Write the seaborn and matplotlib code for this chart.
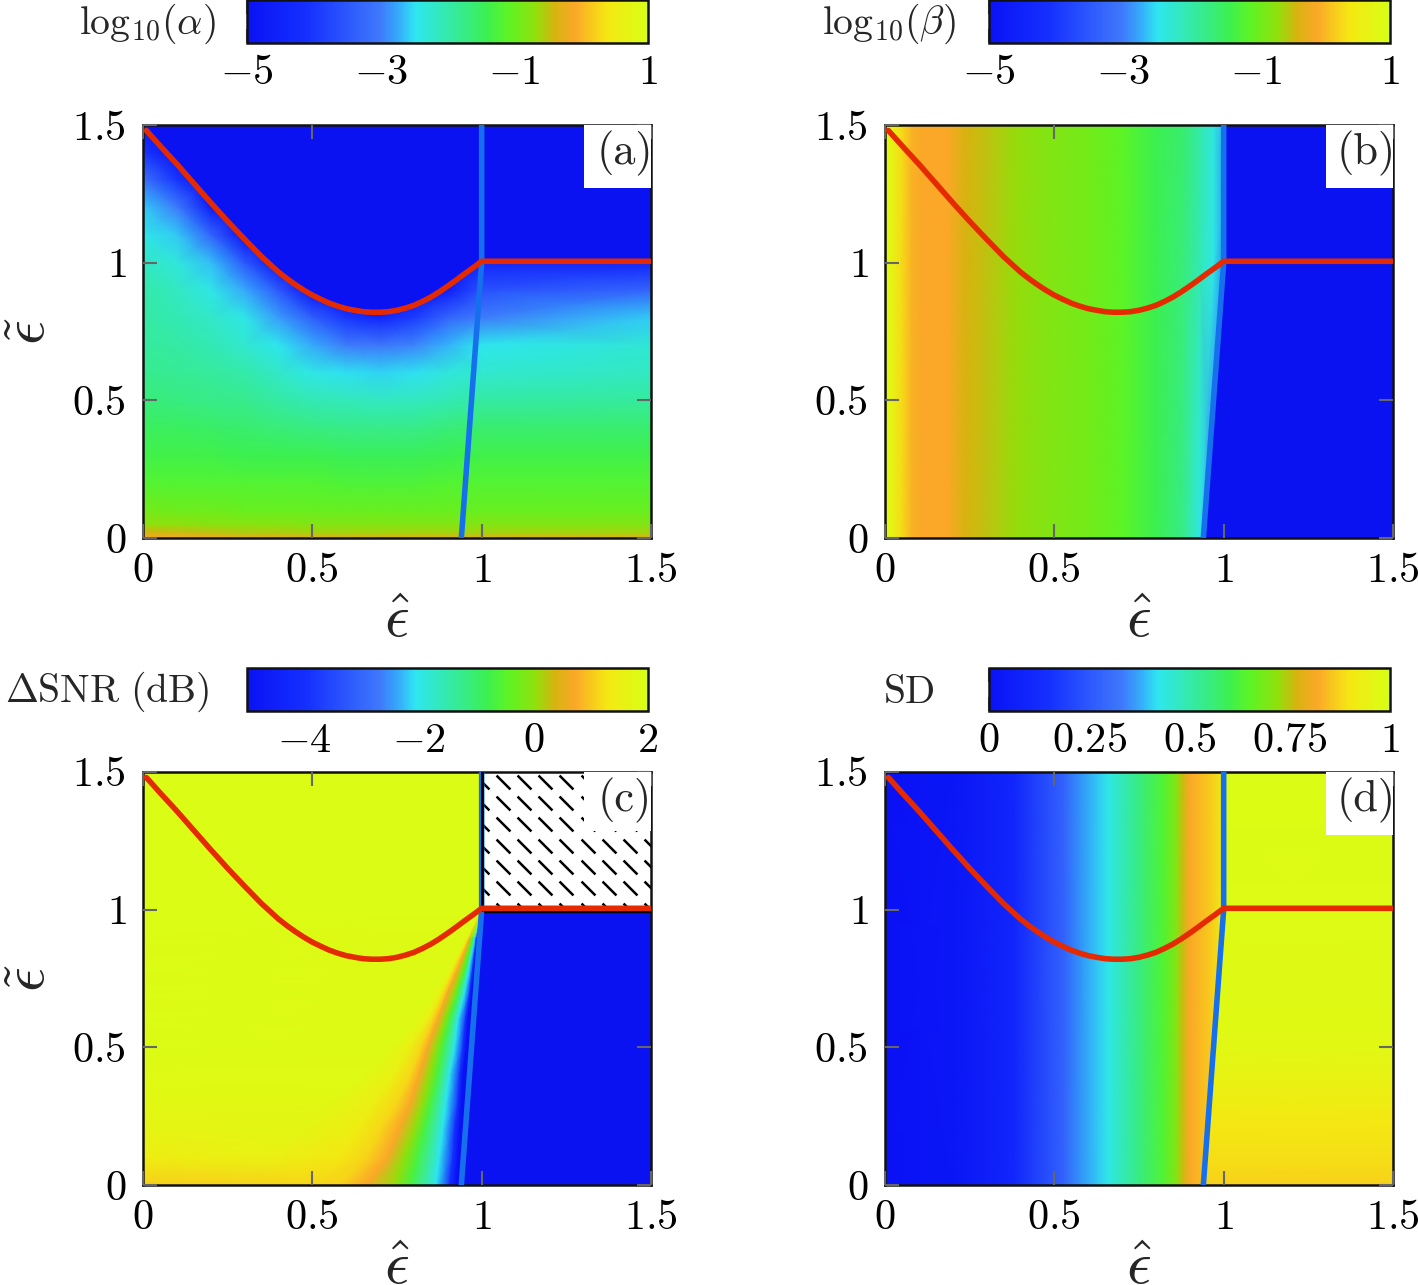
import matplotlib
matplotlib.use("Agg")
import numpy as np
import seaborn as sns
import matplotlib.pyplot as plt
from matplotlib.cm import ScalarMappable
from matplotlib.colors import LinearSegmentedColormap, Normalize
from matplotlib.patches import Polygon, Rectangle
from matplotlib.transforms import ScaledTranslation

# red boundary curve
curve_x = [0.01, 0.05, 0.1, 0.15, 0.2, 0.25, 0.3, 0.35, 0.4, 0.425, 0.45, 0.475, 0.5, 0.525,
           0.55, 0.575, 0.6, 0.625, 0.65, 0.675, 0.7, 0.725, 0.75, 0.775, 0.8, 0.825, 0.85,
           0.875, 0.9, 0.925, 0.95, 0.975, 1.0, 1.5]
curve_y = [1.48, 1.425, 1.358, 1.288, 1.218, 1.15, 1.085, 1.022, 0.966, 0.942, 0.92, 0.9,
           0.882, 0.867, 0.853, 0.842, 0.833, 0.827, 0.822, 0.82, 0.82, 0.822, 0.827, 0.835,
           0.845, 0.859, 0.875, 0.894, 0.915, 0.937, 0.96, 0.982, 1.005, 1.005]

# blue line
line_x = [0.94, 1.0, 1.0]
line_y = [0.0, 1.0, 1.5]

# (a) log10(alpha), rows follow alpha_y, columns follow alpha_x
alpha_x = [0, 0.1, 0.2, 0.3, 0.4, 0.5, 0.6, 0.7, 0.8, 0.9, 1.0, 1.5]
alpha_y = [0, 0.02, 0.05, 0.1, 0.2, 0.3, 0.4, 0.5, 0.6, 0.7, 0.8, 0.9, 1.0, 1.1, 1.2, 1.3, 1.4, 1.5]
alpha_v = [
    [-0.1, -0.1, -0.15, -0.2, -0.25, -0.25, -0.3, -0.3, -0.3, -0.3, -0.3, -0.3],
    [-0.4, -0.45, -0.5, -0.55, -0.55, -0.6, -0.6, -0.6, -0.6, -0.6, -0.6, -0.6],
    [-0.7, -0.7, -0.75, -0.75, -0.75, -0.8, -0.8, -0.8, -0.8, -0.8, -0.8, -0.8],
    [-0.9, -0.95, -0.95, -1, -1, -1, -1, -1, -1, -1, -1, -1],
    [-1.2, -1.2, -1.2, -1.2, -1.2, -1.2, -1.25, -1.25, -1.25, -1.2, -1.2, -1.2],
    [-1.35, -1.35, -1.35, -1.4, -1.4, -1.4, -1.45, -1.45, -1.45, -1.4, -1.35, -1.35],
    [-1.5, -1.5, -1.55, -1.6, -1.65, -1.7, -1.75, -1.75, -1.75, -1.65, -1.6, -1.6],
    [-1.65, -1.7, -1.75, -1.8, -1.95, -2.05, -2.1, -2.15, -2.12, -2.05, -1.95, -1.9],
    [-1.8, -1.85, -1.9, -2.0, -2.2, -2.4, -2.5, -2.55, -2.5, -2.35, -2.25, -2.15],
    [-1.9, -1.95, -2.05, -2.25, -2.45, -2.75, -3.0, -3.05, -2.95, -2.7, -2.45, -2.3],
    [-1.95, -2.05, -2.2, -2.4, -2.8, -3.4, -4.0, -4.4, -3.9, -3.3, -3.0, -2.6],
    [-2.0, -2.15, -2.4, -2.75, -3.5, -5, -5, -5, -5, -4.6, -3.6, -3.3],
    [-2.15, -2.35, -2.65, -3.5, -5, -5, -5, -5, -5, -5, -4.4, -4.4],
    [-2.4, -2.6, -3.3, -5, -5, -5, -5, -5, -5, -5, -5, -5],
    [-2.6, -3.0, -4.6, -5, -5, -5, -5, -5, -5, -5, -5, -5],
    [-3.1, -4.0, -5, -5, -5, -5, -5, -5, -5, -5, -5, -5],
    [-4.0, -5, -5, -5, -5, -5, -5, -5, -5, -5, -5, -5],
    [-5, -5, -5, -5, -5, -5, -5, -5, -5, -5, -5, -5],
]

# (b) log10(beta), nearly a function of x only
beta_x = [0, 0.02, 0.05, 0.08, 0.11, 0.185, 0.233, 0.3, 0.38, 0.48, 0.6, 0.7, 0.8, 0.88, 0.93, 0.97, 1.05, 1.5]
beta_y = [0, 1.0, 1.5]
beta_v = [
    [0.88, 0.7, 0.28, -0.02, -0.08, -0.1, -0.38, -0.5, -0.65, -0.8, -0.92, -1.1, -1.4, -1.75, -2.42, -3.2, -5, -5],
    [0.88, 0.7, 0.28, -0.02, -0.08, -0.1, -0.38, -0.5, -0.65, -0.8, -0.92, -1.1, -1.4, -1.65, -2.05, -2.4, -5, -5],
    [0.88, 0.7, 0.28, -0.02, -0.08, -0.1, -0.38, -0.5, -0.65, -0.8, -0.92, -1.1, -1.4, -1.6, -2.0, -2.36, -3.2, -5],
]

# (c) delta SNR, columns follow the contour lines of the fan into (1, 1)
snr_y = [0, 0.1, 0.2, 0.3, 0.4, 0.5, 0.6, 0.7, 0.8, 0.9, 1.0, 1.5]
snr_x = [
    [0, 0.3, 0.5, 0.58, 0.66, 0.745, 0.79, 0.865, 0.905, 0.925, 1.5],
    [0, 0.35, 0.58, 0.66, 0.72, 0.77, 0.81, 0.875, 0.915, 0.93, 1.5],
    [0, 0.45, 0.63, 0.7, 0.755, 0.80, 0.83, 0.885, 0.92, 0.935, 1.5],
    [0, 0.55, 0.68, 0.75, 0.79, 0.825, 0.85, 0.895, 0.93, 0.94, 1.5],
    [0, 0.65, 0.74, 0.79, 0.815, 0.845, 0.87, 0.905, 0.935, 0.945, 1.5],
    [0, 0.73, 0.785, 0.82, 0.84, 0.865, 0.885, 0.92, 0.945, 0.955, 1.5],
    [0, 0.81, 0.84, 0.855, 0.87, 0.89, 0.905, 0.93, 0.952, 0.96, 1.5],
    [0, 0.865, 0.88, 0.89, 0.90, 0.92, 0.93, 0.95, 0.965, 0.97, 1.5],
    [0, 0.91, 0.92, 0.925, 0.935, 0.945, 0.955, 0.965, 0.975, 0.98, 1.5],
    [0, 0.955, 0.96, 0.962, 0.965, 0.97, 0.975, 0.98, 0.985, 0.99, 1.5],
    [0, 1, 1, 1, 1, 1, 1, 1, 1, 1, 1.5],
    [0, 1, 1, 1, 1, 1, 1, 1, 1, 1, 1.5],
]
snr_v = [
    [1.09, 1.12, 1.14, 1.1, 0.74, 0.04, -0.66, -2.06, -3.95, -5, -5],
    [1.44, 1.55, 1.3, 1.1, 0.74, 0.04, -0.66, -2.06, -3.95, -5, -5],
    [1.65, 1.7, 1.45, 1.15, 0.74, 0.04, -0.66, -2.06, -3.95, -5, -5],
    [1.76, 1.78, 1.5, 1.15, 0.74, 0.04, -0.66, -2.06, -3.95, -5, -5],
    [1.83, 1.83, 1.55, 1.15, 0.74, 0.04, -0.66, -2.06, -3.95, -5, -5],
    [1.9, 1.86, 1.55, 1.15, 0.74, 0.04, -0.66, -2.06, -3.95, -5, -5],
    [1.9, 1.86, 1.55, 1.15, 0.74, 0.04, -0.66, -2.06, -3.95, -5, -5],
    [1.9, 1.86, 1.55, 1.15, 0.74, 0.04, -0.66, -2.06, -3.95, -5, -5],
    [1.9, 1.86, 1.55, 1.15, 0.74, 0.04, -0.66, -2.06, -3.95, -5, -5],
    [1.9, 1.86, 1.55, 1.15, 0.74, 0.04, -0.66, -2.06, -3.95, -5, -5],
    [1.9, 1.9, 1.9, 1.9, 1.9, 1.9, 1.9, 1.9, 1.9, -5, -5],
    [1.9, 1.9, 1.9, 1.9, 1.9, 1.9, 1.9, 1.9, 1.9, -5, -5],
]

# (d) SD, left of the blue line it follows x, right of it y
sd_x = [0, 0.2, 0.38, 0.53, 0.63, 0.66, 0.75, 0.82, 0.86, 0.88, 0.9, 0.96, 1.0, 1.5]
sd_v = [0, 0.02, 0.1, 0.28, 0.40, 0.43, 0.55, 0.63, 0.7, 0.76, 0.82, 0.86, 0.92, 0.92]
sd_right_y = [0, 0.09, 0.23, 0.38, 0.5, 0.7, 1.5]
sd_right_v = [0.87, 0.885, 0.9, 0.94, 0.965, 0.98, 0.985]

panel_names = ["(a)", "(b)", "(c)", "(d)"]
bar_labels = [r"$\mathrm{log}_{10}(\alpha)$", r"$\mathrm{log}_{10}(\beta)$",
              r"$\Delta\mathrm{SNR}\ (\mathrm{dB})$", r"$\mathrm{SD}$"]
bar_ranges = [(-5, 1), (-5, 1), (-5, 2), (0, 1)]
bar_ticks = [[-5, -3, -1, 1], [-5, -3, -1, 1], [-4, -2, 0, 2], [0, 0.25, 0.5, 0.75, 1]]
bar_ticklabels = [[r"$-5$", r"$-3$", r"$-1$", r"$1$"], [r"$-5$", r"$-3$", r"$-1$", r"$1$"],
                  [r"$-4$", r"$-2$", r"$0$", r"$2$"],
                  [r"$0$", r"$0.25$", r"$0.5$", r"$0.75$", r"$1$"]]
axis_ticks = [0, 0.5, 1, 1.5]
axis_ticklabels = [r"$0$", r"$0.5$", r"$1$", r"$1.5$"]

sns.set_theme(style="white")
plt.rcParams["mathtext.fontset"] = "cm"

W, H = 1418, 1285
FS = 30.5
GREY = "#666666"
RED = "#e62a00"
BLUE = "#1670ee"
DEEP = "#0a12f2"

cmap = LinearSegmentedColormap.from_list("rainbow_bar", [
    (0.0, "#0a12f5"), (0.15, "#1530ff"), (0.33, "#3f78fb"), (0.38, "#35aefa"), (0.42, "#2ee6f0"),
    (0.55, "#38ec80"), (0.6, "#3cf050"), (0.65, "#5cf426"), (0.72, "#90e00c"), (0.77, "#d8b310"),
    (0.82, "#fba828"), (0.9, "#f5e812"), (1.0, "#d8ff14")])

fig = plt.figure(figsize=(W / 100, H / 100), dpi=100)


def px_axes(x0, y0, x1, y1):
    return fig.add_axes([x0 / W, 1 - y1 / H, (x1 - x0) / W, (y1 - y0) / H])


def mesh(ax, x, y, v, rng):
    return ax.pcolormesh(x, y, np.array(v), cmap=cmap, vmin=rng[0], vmax=rng[1],
                         shading="gouraud", zorder=1)


origins = [(143, 125), (885, 125), (143, 772), (885, 772)]

for i, (ox, oy) in enumerate(origins):
    ax = px_axes(ox, oy, ox + 508, oy + 413)
    rng = bar_ranges[i]

    if i == 0:
        mesh(ax, alpha_x, alpha_y, alpha_v, rng)
        ax.fill_between(curve_x, curve_y, 1.5, color=DEEP, lw=0, zorder=1.5)
    elif i == 1:
        mesh(ax, beta_x, beta_y, beta_v, rng)
        ax.fill_betweenx(line_y, line_x, 1.5, color=DEEP, lw=0, zorder=1.5)
    elif i == 2:
        xx = np.array(snr_x)
        yy = np.tile(np.array(snr_y)[:, None], (1, xx.shape[1]))
        mesh(ax, xx, yy, snr_v, rng)
        ax.fill_betweenx(line_y, line_x, 1.5, color=DEEP, lw=0, zorder=1.5)
        ax.add_patch(Rectangle((1, 1), 0.5, 0.5, fc="white", ec="none", zorder=1.6))
        # dashed hatch of the empty region
        hx, hy = np.meshgrid(np.arange(1.0, 1.52, 0.0625), np.arange(1.0, 1.5, 0.0775))
        dash = [(-1, 1), (1, -1)]
        hatch = ax.scatter(hx.ravel(), hy.ravel(), marker=dash, s=100, c="black",
                           linewidths=1.8, zorder=1.7)
        hatch.set_clip_path(Rectangle((1, 1), 0.5, 0.5, transform=ax.transData))
        ax.plot([1, 1], [1, 1.5], color="black", lw=2, zorder=2.95)
        ax.plot([1, 1.5], [0.995, 0.995], color="black", lw=2.5, zorder=2.8)
    else:
        mesh(ax, sd_x, [0, 1.5], [sd_v, sd_v], rng)
        right = mesh(ax, [0.9, 1.5], sd_right_y, [[val, val] for val in sd_right_v], rng)
        clip = Polygon(list(zip(line_x, line_y)) + [(1.5, 1.5), (1.5, 0)], closed=True,
                       transform=ax.transData)
        right.set_clip_path(clip)

    sns.lineplot(x=line_x, y=line_y, color=BLUE, linewidth=4, sort=False, estimator=None,
                 ax=ax, zorder=2.9)
    sns.lineplot(x=curve_x, y=curve_y, color=RED, linewidth=4, sort=False, estimator=None,
                 ax=ax, zorder=3)

    ax.set_xlim(0, 1.5)
    ax.set_ylim(0, 1.5)
    ax.set_axisbelow(False)
    ax.set_xticks(axis_ticks)
    ax.set_yticks(axis_ticks)
    ax.set_xticklabels(axis_ticklabels)
    ax.set_yticklabels(axis_ticklabels)
    ax.tick_params(top=True, right=True, bottom=True, left=True, direction="in", length=10,
                   width=1.5, color=GREY, labelsize=FS, labelcolor="black")
    ax.tick_params(axis="x", pad=8)
    ax.tick_params(axis="y", pad=12)
    nudge = ScaledTranslation(0, 2 / 100, fig.dpi_scale_trans)
    for lab in ax.get_yticklabels():
        lab.set_transform(lab.get_transform() + nudge)
    for sp in ax.spines.values():
        sp.set_visible(True)
        sp.set_color("#111111")
        sp.set_linewidth(1.8)

    # white corner box behind the panel letter
    box_h = 0.142 if i == 2 else 0.153
    ax.add_patch(Rectangle((0.868, 1 - box_h), 0.132, box_h, transform=ax.transAxes,
                           fc="white", ec="none", zorder=3.2))
    ax.text(0.948, 0.932, panel_names[i], transform=ax.transAxes, ha="center", va="center",
            fontsize=32, zorder=4, family="cmr10")

    fig.text((ox + 254) / W, 1 - (oy + 512) / H, r"$\hat{\epsilon}$", fontsize=44,
             ha="center", va="baseline")
    # only the left panels carry the y label, its tilde runs into the page edge
    if i in (0, 2):
        fig.text((ox - 114) / W, 1 - (oy + 206) / H, r"$\tilde{\epsilon}$", fontsize=44,
                 ha="center", va="center", rotation=90)

    # colour bar above the panel
    cy0 = oy - 125 if i < 2 else oy - 104
    cax = px_axes(ox + 104, cy0, ox + 505, cy0 + 43)
    sm = ScalarMappable(norm=Normalize(*rng), cmap=cmap)
    cb = fig.colorbar(sm, cax=cax, orientation="horizontal")
    cb.set_ticks(bar_ticks[i])
    cb.set_ticklabels(bar_ticklabels[i])
    cax.tick_params(which="both", top=True, bottom=True, direction="in", length=10, width=1.5,
                    color=GREY, labelsize=FS, labelcolor="black", pad=6)
    cb.outline.set_edgecolor("#111111")
    cb.outline.set_linewidth(1.8)

    lab_x = [147, 889, 107, 909][i]
    fig.text(lab_x / W, 1 - (cy0 + 24) / H, bar_labels[i], fontsize=FS - 2, ha="center",
             va="center")

fig.savefig("out.png", dpi=100)
